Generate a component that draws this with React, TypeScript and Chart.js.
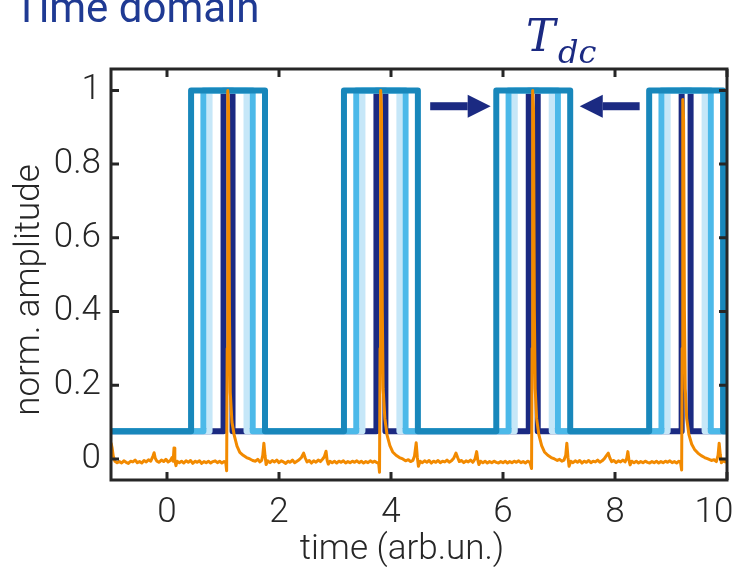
import React, { useEffect, useRef } from "react";
import { Chart, registerables } from "chart.js";

Chart.register(...registerables);

// ---- data ----
const xTicks = [0, 2, 4, 6, 8, 10];
const yTicks = [0, 0.2, 0.4, 0.6, 0.8, 1];
const xRange = [-1, 10];
const yRange = [-0.057, 1.058];
const pulseLow = 0.075;
const pulseHigh = 1.0;

const navyPulses = [[1.01, 1.17], [3.74, 3.9], [6.46, 6.62], [9.19, 9.35]];
const palestPulses = [[0.76, 1.42], [3.49, 4.15], [6.21, 6.87], [8.94, 9.6]];
const lightPulses = [[0.65, 1.53], [3.38, 4.26], [6.1, 6.98], [8.83, 9.71]];
const widePulses = [[0.43, 1.75], [3.16, 4.48], [5.88, 7.2], [8.61, 9.93]];

const orangeSignal = [
  [-1.0, 0.044], [-0.98, 0.03], [-0.96, 0.008], [-0.93, -0.006], [-0.89, -0.01], [-0.85, -0.007], [-0.81, -0.011],
  [-0.77, -0.005], [-0.73, -0.009], [-0.69, -0.012], [-0.65, -0.006], [-0.61, -0.008], [-0.57, -0.003], [-0.53, -0.01],
  [-0.49, -0.007], [-0.45, -0.011], [-0.41, -0.004], [-0.37, -0.008], [-0.33, -0.002], [-0.29, -0.006], [-0.25, 0.008],
  [-0.23, 0.017], [-0.21, 0.002], [-0.18, -0.006], [-0.14, -0.009], [-0.1, -0.003], [-0.06, -0.007], [-0.02, -0.001],
  [0.02, -0.008], [0.06, -0.004], [0.09, 0.004], [0.11, -0.006], [0.125, 0.03], [0.14, -0.004], [0.16, -0.018],
  [0.18, -0.006], [0.22, -0.01], [0.26, -0.006], [0.3, -0.011], [0.34, -0.005], [0.38, -0.009], [0.42, -0.004],
  [0.46, -0.012], [0.5, -0.006], [0.54, -0.009], [0.58, -0.005], [0.62, -0.012], [0.66, -0.007], [0.7, -0.01],
  [0.74, -0.006], [0.78, -0.011], [0.82, -0.007], [0.86, -0.005], [0.9, -0.01], [0.94, -0.006], [0.98, -0.011],
  [1.02, -0.007], [1.05, -0.01], [1.065, -0.032], [1.075, 0.3], [1.085, 1.0], [1.1, 0.95], [1.115, 0.4], [1.13, 0.18],
  [1.16, 0.1], [1.2, 0.065], [1.25, 0.035], [1.3, 0.018], [1.36, 0.01], [1.42, 0.004], [1.48, 0.0], [1.53, -0.004],
  [1.58, -0.006], [1.62, -0.001], [1.66, -0.008], [1.69, -0.004], [1.71, 0.01], [1.73, 0.043], [1.75, 0.01],
  [1.77, -0.015], [1.8, -0.005], [1.84, -0.01], [1.88, -0.004], [1.92, -0.008], [1.96, -0.003], [2.0, -0.01],
  [2.04, -0.005], [2.08, -0.008], [2.12, -0.012], [2.16, -0.006], [2.2, -0.009], [2.24, -0.003], [2.28, -0.01],
  [2.32, -0.006], [2.36, -0.002], [2.4, 0.004], [2.44, 0.016], [2.47, 0.002], [2.5, -0.008], [2.54, -0.004],
  [2.58, -0.011], [2.62, -0.005], [2.66, -0.009], [2.7, -0.003], [2.74, -0.007], [2.78, 0.0], [2.81, 0.006],
  [2.84, 0.021], [2.86, -0.004], [2.88, -0.014], [2.91, -0.006], [2.95, -0.01], [2.99, -0.006], [3.03, -0.011],
  [3.07, -0.006], [3.11, -0.009], [3.15, -0.005], [3.19, -0.011], [3.23, -0.007], [3.27, -0.01], [3.31, -0.006],
  [3.35, -0.009], [3.39, -0.005], [3.43, -0.01], [3.47, -0.006], [3.51, -0.011], [3.55, -0.007], [3.59, -0.01],
  [3.63, -0.005], [3.67, -0.009], [3.71, -0.006], [3.75, -0.01], [3.78, -0.012], [3.795, -0.036], [3.805, 0.3],
  [3.815, 1.0], [3.83, 0.95], [3.845, 0.4], [3.86, 0.19], [3.89, 0.11], [3.93, 0.065], [3.98, 0.036], [4.03, 0.019],
  [4.09, 0.01], [4.15, 0.004], [4.21, 0.0], [4.26, -0.005], [4.31, -0.002], [4.35, -0.007], [4.39, -0.004],
  [4.42, 0.008], [4.45, 0.044], [4.47, 0.005], [4.49, -0.02], [4.52, -0.006], [4.56, -0.01], [4.6, -0.005],
  [4.64, -0.009], [4.68, -0.004], [4.72, -0.011], [4.76, -0.006], [4.8, -0.009], [4.84, -0.004], [4.88, -0.01],
  [4.92, -0.006], [4.96, -0.008], [5.0, -0.003], [5.04, -0.009], [5.08, -0.005], [5.12, 0.002], [5.16, 0.016],
  [5.19, 0.004], [5.22, -0.007], [5.26, -0.004], [5.3, -0.01], [5.34, -0.005], [5.38, -0.008], [5.42, -0.003],
  [5.46, -0.009], [5.5, 0.0], [5.53, 0.02], [5.55, -0.003], [5.57, -0.015], [5.6, -0.006], [5.64, -0.01],
  [5.68, -0.006], [5.72, -0.011], [5.76, -0.007], [5.8, -0.01], [5.84, -0.006], [5.88, -0.009], [5.92, -0.011],
  [5.96, -0.007], [6.0, -0.01], [6.04, -0.006], [6.08, -0.011], [6.12, -0.007], [6.16, -0.01], [6.2, -0.006],
  [6.24, -0.009], [6.28, -0.005], [6.32, -0.01], [6.36, -0.007], [6.4, -0.011], [6.44, -0.006], [6.48, -0.009],
  [6.51, -0.026], [6.52, 0.3], [6.53, 1.0], [6.545, 0.95], [6.56, 0.4], [6.575, 0.19], [6.6, 0.11], [6.64, 0.066],
  [6.69, 0.036], [6.74, 0.019], [6.8, 0.01], [6.86, 0.004], [6.92, 0.0], [6.97, -0.004], [7.01, -0.001],
  [7.05, -0.006], [7.09, -0.003], [7.12, 0.01], [7.14, 0.043], [7.16, 0.005], [7.18, -0.02], [7.21, -0.006],
  [7.25, -0.01], [7.29, -0.005], [7.33, -0.009], [7.37, -0.004], [7.41, -0.011], [7.45, -0.006], [7.49, -0.009],
  [7.53, -0.004], [7.57, -0.01], [7.61, -0.006], [7.65, -0.008], [7.69, -0.003], [7.73, -0.009], [7.77, -0.005],
  [7.81, 0.001], [7.85, 0.01], [7.88, 0.016], [7.91, 0.002], [7.94, -0.007], [7.98, -0.004], [8.02, -0.01],
  [8.06, -0.005], [8.1, -0.008], [8.14, -0.003], [8.18, -0.008], [8.21, 0.002], [8.23, 0.02], [8.25, -0.004],
  [8.27, -0.016], [8.3, -0.006], [8.34, -0.01], [8.38, -0.006], [8.42, -0.011], [8.46, -0.007], [8.5, -0.01],
  [8.54, -0.006], [8.58, -0.009], [8.62, -0.011], [8.66, -0.007], [8.7, -0.01], [8.74, -0.006], [8.78, -0.011],
  [8.82, -0.007], [8.86, -0.01], [8.9, -0.006], [8.94, -0.009], [8.98, -0.005], [9.02, -0.01], [9.06, -0.007],
  [9.1, -0.011], [9.14, -0.006], [9.17, -0.009], [9.19, -0.03], [9.2, 0.3], [9.21, 0.975], [9.225, 0.92],
  [9.24, 0.4], [9.255, 0.19], [9.28, 0.11], [9.32, 0.066], [9.37, 0.04], [9.42, 0.026], [9.48, 0.016],
  [9.54, 0.009], [9.6, 0.004], [9.66, 0.0], [9.72, -0.004], [9.77, -0.002], [9.81, -0.007], [9.84, 0.01],
  [9.86, 0.043], [9.88, 0.012], [9.9, -0.01], [9.93, -0.005], [9.97, -0.008], [10.0, -0.004],
];

const arrowRight = [[4.7, 0.957], [5.78, 0.957]];
const arrowLeft = [[8.44, 0.957], [7.37, 0.957]];

// ---- styles ----
const NAVY = "#1b2a82";
const PALEST = "#c6e7f8";
const LIGHT = "#4cb9e9";
const WIDE = "#1887bb";
const ORANGE = "#f28a00";
const AXIS = "#262626";
const LABEL_FONT = "Roboto";
const FONT_SIZE = 35;

function pulseTrain(edges: number[][]) {
  const pts: { x: number; y: number }[] = [{ x: xRange[0], y: pulseLow }];
  for (const [s, e] of edges) {
    pts.push({ x: s, y: pulseLow }, { x: s, y: pulseHigh }, { x: e, y: pulseHigh }, { x: e, y: pulseLow });
  }
  pts.push({ x: xRange[1], y: pulseLow });
  return pts;
}

const framePlugin = {
  id: "frame",
  beforeDraw(chart: any) {
    // keep the last x label ("10") inside the canvas
    const xs = chart.scales.x;
    if (xs && xs.getLabelItems) {
      const items = xs.getLabelItems(chart.chartArea);
      const last = items && items[items.length - 1];
      if (last && last.options && last.options.translation) {
        const w = chart.ctx.canvas.width;
        const t = last.options.translation;
        last.options.translation = [Math.min(t[0], w - 24), t[1]];
      }
    }
  },
  afterDatasetsDraw(chart: any) {
    const { ctx, chartArea: a, scales } = chart;
    const xs = scales.x;
    const ys = scales.y;
    ctx.save();
    // arrows
    ctx.fillStyle = NAVY;
    for (const arr of [arrowRight, arrowLeft]) {
      const x0 = xs.getPixelForValue(arr[0][0]);
      const x1 = xs.getPixelForValue(arr[1][0]);
      const y = ys.getPixelForValue(arr[0][1]);
      const dir = Math.sign(x1 - x0);
      const head = 23;
      const hb = x1 - dir * head;
      ctx.fillRect(Math.min(x0, hb), y - 4, Math.abs(hb - x0), 8);
      ctx.beginPath();
      ctx.moveTo(x1, y);
      ctx.lineTo(hb, y - 11.5);
      ctx.lineTo(hb, y + 11.5);
      ctx.closePath();
      ctx.fill();
    }
    // box
    ctx.strokeStyle = AXIS;
    ctx.lineWidth = 3;
    ctx.strokeRect(a.left, a.top, a.right - a.left, a.bottom - a.top);
    // inward ticks
    const tl = 8;
    ctx.beginPath();
    for (const v of xTicks) {
      const px = xs.getPixelForValue(v);
      ctx.moveTo(px, a.bottom);
      ctx.lineTo(px, a.bottom - tl);
      ctx.moveTo(px, a.top);
      ctx.lineTo(px, a.top + tl);
    }
    for (const v of yTicks) {
      const py = ys.getPixelForValue(v);
      ctx.moveTo(a.left, py);
      ctx.lineTo(a.left + tl, py);
      ctx.moveTo(a.right, py);
      ctx.lineTo(a.right - tl, py);
    }
    ctx.stroke();
    ctx.restore();
  },
  afterDraw(chart: any) {
    const { ctx } = chart;
    ctx.save();
    // axis titles
    ctx.fillStyle = AXIS;
    ctx.font = `300 ${FONT_SIZE}px ${LABEL_FONT}`;
    ctx.textAlign = "center";
    ctx.textBaseline = "middle";
    ctx.fillText("time (arb.un.)", 402, 550);
    ctx.translate(30, 290);
    ctx.rotate(-Math.PI / 2);
    ctx.fillText("norm. amplitude", 0, 0);
    ctx.restore();

    ctx.save();
    ctx.fillStyle = "#1f3a93";
    ctx.font = `400 42px ${LABEL_FONT}`;
    ctx.textAlign = "left";
    ctx.textBaseline = "alphabetic";
    ctx.fillText("Time domain", 14, 22);
    ctx.fillStyle = NAVY;
    ctx.font = "italic 44px 'DejaVu Serif'";
    ctx.fillText("T", 526, 51);
    ctx.font = "italic 32px 'DejaVu Serif'";
    ctx.fillText("dc", 558, 63);
    ctx.restore();
  },
};

export default function App() {
  const ref = useRef<HTMLCanvasElement | null>(null);
  useEffect(() => {
    if (!ref.current) return;
    const tickFont = { family: LABEL_FONT, size: FONT_SIZE, weight: "300" as any };
    const chart = new Chart(ref.current, {
      type: "line",
      data: {
        datasets: [
          { label: "signal", data: orangeSignal.map(([x, y]) => ({ x, y })), borderColor: ORANGE, borderWidth: 3 },
          { label: "wide", data: pulseTrain(widePulses), borderColor: WIDE, borderWidth: 6 },
          { label: "light", data: pulseTrain(lightPulses), borderColor: LIGHT, borderWidth: 6 },
          { label: "palest", data: pulseTrain(palestPulses), borderColor: PALEST, borderWidth: 6 },
          { label: "navy", data: pulseTrain(navyPulses), borderColor: NAVY, borderWidth: 6 },
        ].map((d) => ({ ...d, pointRadius: 0, tension: 0, fill: false, borderJoinStyle: "round" as const })),
      },
      options: {
        animation: false,
        responsive: false,
        devicePixelRatio: 1,
        layout: { padding: { left: 0, right: 11, top: 69, bottom: 0 } },
        plugins: { legend: { display: false }, tooltip: { enabled: false }, title: { display: false } },
        scales: {
          x: {
            type: "linear",
            min: xRange[0],
            max: xRange[1],
            afterBuildTicks: (s: any) => { s.ticks = xTicks.map((v) => ({ value: v })); },
            afterFit: (s: any) => { s.height = 91; s.paddingLeft = 0; s.paddingRight = 0; },
            grid: { display: false, drawTicks: false },
            border: { display: false },
            ticks: { padding: 12, font: tickFont, color: AXIS, maxRotation: 0, autoSkip: false, callback: (v: any) => String(v) },
          },
          y: {
            type: "linear",
            min: yRange[0],
            max: yRange[1],
            afterBuildTicks: (s: any) => { s.ticks = yTicks.map((v) => ({ value: v })); },
            afterFit: (s: any) => { s.width = 111; s.paddingTop = 0; s.paddingBottom = 0; },
            grid: { display: false, drawTicks: false },
            border: { display: false },
            ticks: { padding: 10, font: tickFont, color: AXIS, autoSkip: false, callback: (v: any) => String(v) },
          },
        },
      },
      plugins: [framePlugin],
    });
    return () => chart.destroy();
  }, []);
  return (
    <div style={{ position: "absolute", left: 0, top: 0, width: 738, height: 571, background: "#fff" }}>
      <canvas ref={ref} width={738} height={571} />
    </div>
  );
}
